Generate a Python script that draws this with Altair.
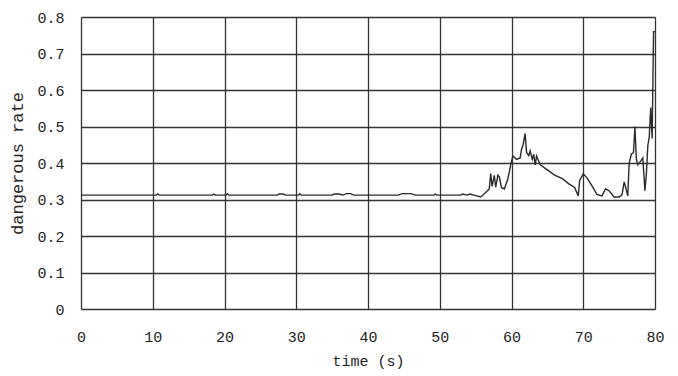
import altair as alt
import pandas as pd

time_s = [0, 10.5, 10.7, 10.9, 18.3, 18.5, 18.7, 20.2, 20.4, 20.6, 27.4, 27.6, 28.2, 28.5, 30.3, 30.5, 30.7,
          35.0, 35.3, 36.0, 36.5, 37.0, 37.6, 38.0, 44.2, 44.8, 45.4, 46.0, 46.6, 49.2, 49.4, 49.6,
          52.9, 53.2, 53.8, 54.2, 54.8, 55.7, 56.4, 56.9, 57.1, 57.3, 57.6, 57.8, 58.1, 58.3, 58.6,
          59.0, 59.5, 60.0, 60.2, 60.7, 61.2, 61.4, 61.6, 61.9, 62.1, 62.4, 62.6, 62.9, 63.1, 63.3,
          63.5, 63.8, 64.0, 65.0, 66.0, 67.1, 68.0, 68.8, 69.3, 69.5, 70.0, 70.5, 71.2, 71.9, 72.6,
          73.1, 73.6, 74.3, 75.0, 75.4, 75.7, 75.9, 76.2, 76.4, 76.7, 77.0, 77.2, 77.4, 77.6, 78.0,
          78.3, 78.6, 78.8, 79.0, 79.2, 79.4, 79.6, 79.8, 80.0]
rate = [0.312, 0.312, 0.316, 0.312, 0.312, 0.315, 0.312, 0.312, 0.316, 0.312, 0.312, 0.315, 0.315, 0.312, 0.312, 0.316, 0.312,
        0.312, 0.315, 0.315, 0.312, 0.316, 0.316, 0.312, 0.312, 0.316, 0.316, 0.316, 0.312, 0.312, 0.315, 0.312,
        0.312, 0.315, 0.312, 0.315, 0.312, 0.307, 0.319, 0.329, 0.371, 0.336, 0.366, 0.334, 0.367, 0.362, 0.333,
        0.329, 0.357, 0.405, 0.419, 0.410, 0.414, 0.438, 0.448, 0.481, 0.429, 0.420, 0.433, 0.410, 0.424, 0.395,
        0.419, 0.405, 0.395, 0.381, 0.367, 0.357, 0.343, 0.333, 0.310, 0.352, 0.370, 0.360, 0.338, 0.314, 0.310,
        0.329, 0.324, 0.307, 0.307, 0.313, 0.348, 0.334, 0.310, 0.400, 0.424, 0.429, 0.500, 0.410, 0.395, 0.405,
        0.414, 0.324, 0.371, 0.448, 0.471, 0.552, 0.467, 0.760, 0.760]

y_ticks = [0, 0.1, 0.2, 0.3, 0.4, 0.5, 0.6, 0.7, 0.8]
x_ticks = [0, 10, 20, 30, 40, 50, 60, 70, 80]

df = pd.DataFrame({"t": time_s, "r": rate})

FONT = "Liberation Mono"

chart = alt.Chart(df).mark_line(color="#2a2a2a", strokeWidth=1.4, interpolate="linear").encode(
    x=alt.X("t:Q", scale=alt.Scale(domain=[0, 80], nice=False),
            axis=alt.Axis(values=x_ticks, title="time (s)", format="d", ticks=False,
                          labelPadding=20, titlePadding=9, grid=True, labelFlush=False,
                          gridColor="#333333", gridWidth=1.3, domain=False,
                          labelFont=FONT, labelFontSize=15, labelColor="#222222",
                          titleFont=FONT, titleFontSize=15, titleFontWeight="normal",
                          titleColor="#222222")),
    y=alt.Y("r:Q", scale=alt.Scale(domain=[0, 0.8], nice=False),
            axis=alt.Axis(values=y_ticks, title="dangerous rate", ticks=False,
                          labelExpr="datum.value == 0 ? '0' : format(datum.value, '.1f')",
                          labelPadding=17, titlePadding=10, grid=True, labelFlush=False,
                          gridColor="#333333", gridWidth=1.3, domain=False,
                          labelFont=FONT, labelFontSize=15, labelColor="#222222",
                          titleFont=FONT, titleFontSize=17, titleFontWeight="normal",
                          titleColor="#222222")),
).properties(
    width=574, height=292,
    autosize=alt.AutoSizeParams(type="none"),
    padding={"left": 73, "top": 9, "right": 15, "bottom": 67},
).configure_view(stroke="#222222", strokeWidth=1.5).configure(background="white")

chart.save("out.html", embed_options={"renderer": "svg", "actions": False})
